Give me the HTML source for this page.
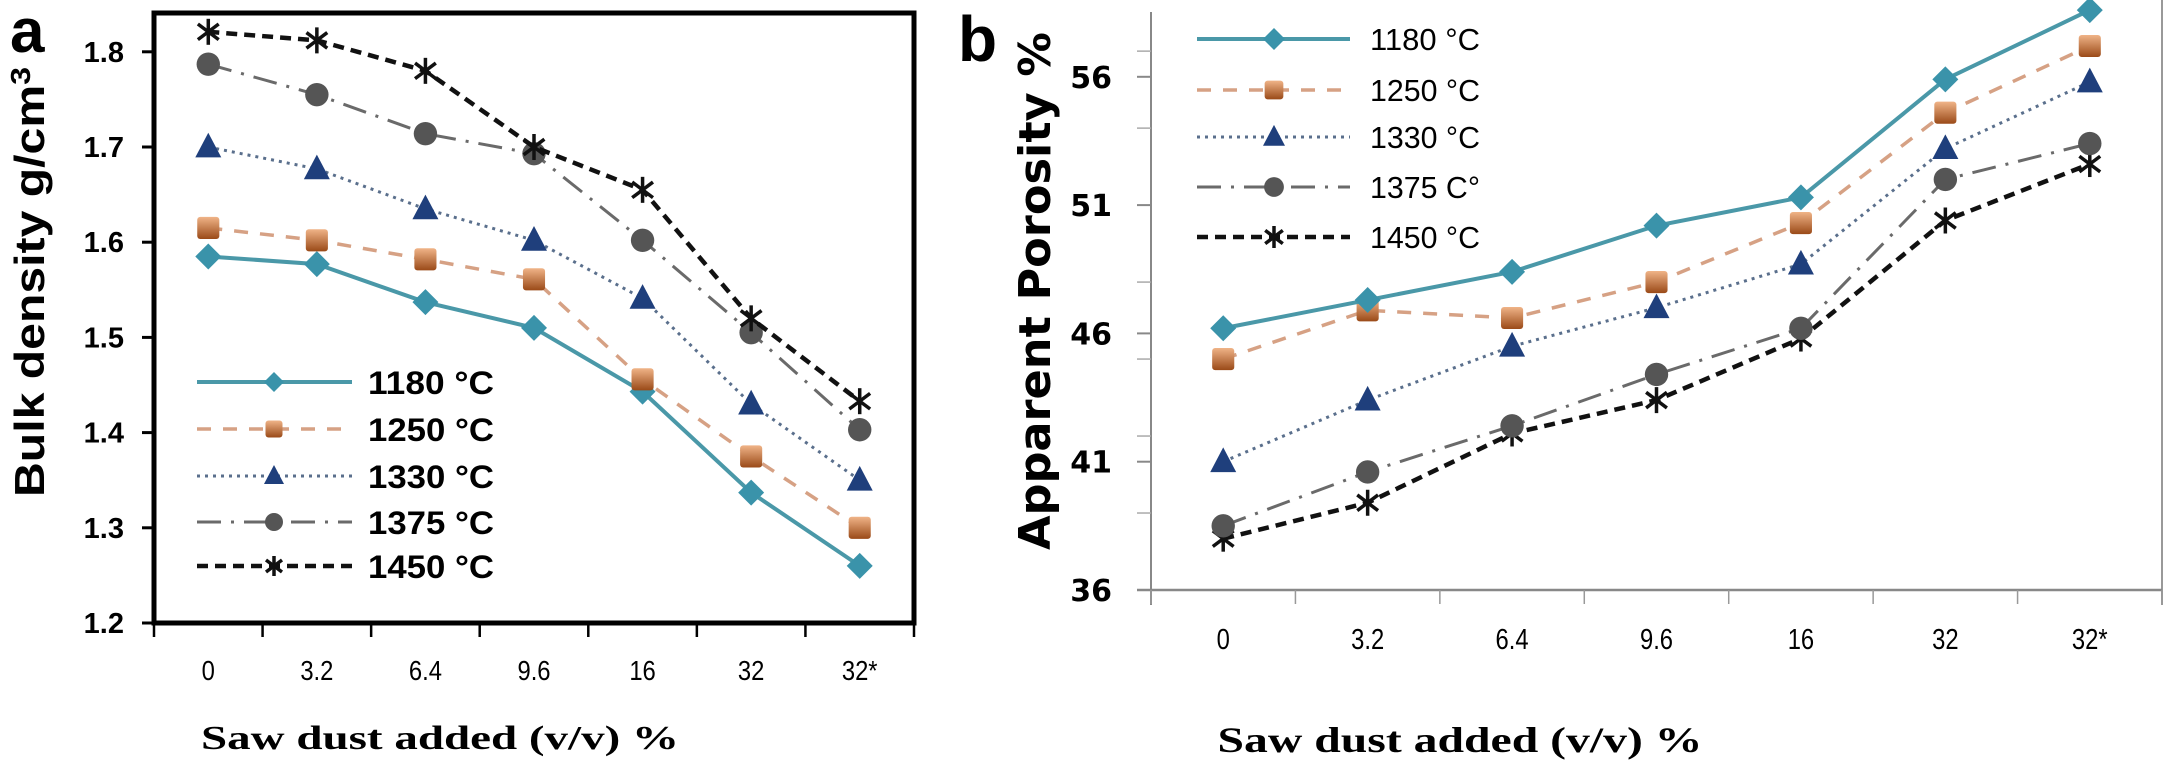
<!DOCTYPE html>
<html><head><meta charset="utf-8">
<style>
html,body{margin:0;padding:0;background:#fff;}
svg{display:block;}
</style></head>
<body>
<svg id="fig" width="2175" height="771" viewBox="0 0 2175 771" xmlns="http://www.w3.org/2000/svg" font-family="Liberation Sans, sans-serif">
  <g id="panelA"></g>
  <g id="panelB"></g>
</svg>
<script>
// ---- shared categories ----
const categories = ["0","3.2","6.4","9.6","16","32","32*"];
const seriesNames = ["1180 °C","1250 °C","1330 °C","1375 °C","1450 °C"];
const seriesNamesB = ["1180 °C","1250 °C","1330 °C","1375 C°","1450 °C"];
// ---- panel a: bulk density ----
const densityTicks = [1.2,1.3,1.4,1.5,1.6,1.7,1.8];
const density1180 = [1.585,1.577,1.537,1.510,1.443,1.337,1.260];
const density1250 = [1.615,1.602,1.582,1.561,1.456,1.375,1.300];
const density1330 = [1.700,1.677,1.635,1.602,1.541,1.430,1.350];
const density1375 = [1.787,1.755,1.714,1.693,1.602,1.505,1.403];
const density1450 = [1.821,1.812,1.780,1.700,1.655,1.520,1.433];
// ---- panel b: apparent porosity ----
const porosityTicks = [36,41,46,51,56];
const porosityMinorTicks = [39,42,45,48,54,57];
const porosity1180 = [46.2,47.3,48.4,50.2,51.3,55.9,58.6];
const porosity1250 = [45.0,46.9,46.6,48.0,50.3,54.6,57.2];
const porosity1330 = [41.0,43.4,45.5,47.0,48.7,53.2,55.8];
const porosity1375 = [38.5,40.6,42.4,44.4,46.2,52.0,53.4];
const porosity1450 = [38.0,39.4,42.1,43.4,45.8,50.4,52.6];

const NS="http://www.w3.org/2000/svg";
function mk(tag, attrs, parent){const e=document.createElementNS(NS,tag);for(const k in attrs)e.setAttribute(k,attrs[k]);if(parent)parent.appendChild(e);return e;}

const styles=[
 {line:"#4a98a8",w:4,dash:"",marker:"diamond",fill:"#3a93aa"},
 {line:"#d6a184",w:3.5,dash:"14 12",marker:"square",fill:"url(#sqgrad)"},
 {line:"#5a6f8c",w:3,dash:"3 5",marker:"triangle",fill:"#1f3f7c"},
 {line:"#6a6a6a",w:3,dash:"24 10 3 10",marker:"circle",fill:"#555"},
 {line:"#111",w:4.5,dash:"11 7",marker:"star",fill:"#111"}
];
const fig=document.getElementById('fig');
const defs=mk('defs',{},fig);
const gr=mk('linearGradient',{id:'sqgrad',x1:0,y1:0,x2:0,y2:1},defs);
mk('stop',{offset:'0','stop-color':'#f0b488'},gr);
mk('stop',{offset:'1','stop-color':'#9a4a18'},gr);

function marker(g,type,x,y,s,fill){
  let m;
  if(type==="diamond") m=mk('polygon',{points:`${x},${y-s} ${x+s},${y} ${x},${y+s} ${x-s},${y}`,fill:fill},g);
  else if(type==="square") m=mk('rect',{x:x-s*0.85,y:y-s*0.85,width:s*1.7,height:s*1.7,rx:3,fill:fill},g);
  else if(type==="triangle") m=mk('polygon',{points:`${x},${y-s*1.1} ${x+s},${y+s*0.8} ${x-s},${y+s*0.8}`,fill:fill},g);
  else if(type==="circle") m=mk('circle',{cx:x,cy:y,r:s*0.9,fill:fill},g);
  else {
    m=mk('g',{stroke:fill,'stroke-width':3.5},g);
    mk('line',{x1:x,y1:y-s,x2:x,y2:y+s},m);
    mk('line',{x1:x-s*0.8,y1:y-s*0.6,x2:x+s*0.8,y2:y+s*0.6},m);
    mk('line',{x1:x-s*0.8,y1:y+s*0.6,x2:x+s*0.8,y2:y-s*0.6},m);
  }
  return m;
}

// ===== Panel A =====
(function(){
  const g=document.getElementById('panelA');
  const x0=154,x1=914,yTop=13,yBot=623,vMin=1.2,perUnit=952;
  const band=(x1-x0)/categories.length;
  const xs=i=>x0+band*(i+0.5);
  const ys=v=>yBot-(v-vMin)*perUnit;
  const fr=mk('rect',{x:x0,y:yTop,width:x1-x0,height:yBot-yTop,fill:'none',stroke:'#000','stroke-width':5},g);
  
  
  densityTicks.forEach(t=>{
    const tl=mk('line',{x1:x0-12,y1:ys(t),x2:x0,y2:ys(t),stroke:'#000','stroke-width':3},g);
    
    
    const tx=mk('text',{x:124,y:ys(t)+10,'text-anchor':'end','font-size':29,'font-weight':'bold'},g);
    tx.textContent=t.toFixed(1);
    
    
  });
  for(let i=0;i<=categories.length;i++){
    const tl=mk('line',{x1:x0+band*i,y1:yBot,x2:x0+band*i,y2:yBot+14,stroke:'#000','stroke-width':2.5},g);
    
    
  }
  categories.forEach((c,i)=>{
    const tx=mk('text',{x:xs(i),y:680,'text-anchor':'middle','font-size':28,transform:`translate(${xs(i)},0) scale(0.85,1) translate(${-xs(i)},0)`},g);
    tx.textContent=c;
    
    
  });
  const xt=mk('text',{x:440,y:749,'text-anchor':'middle','font-size':34,'font-weight':'bold','font-family':'Liberation Serif, serif',textLength:478,lengthAdjust:'spacingAndGlyphs'},g);
  xt.textContent="Saw dust added (v/v) %";
  
  
  const yt=mk('text',{x:0,y:0,'text-anchor':'middle','font-size':42,'font-weight':'bold',transform:'translate(44,282) rotate(-90)',textLength:430,lengthAdjust:'spacingAndGlyphs'},g);
  yt.innerHTML='Bulk density g/cm<tspan dy="-14" font-size="28">3</tspan>';
  
  
  const lab=mk('text',{x:10,y:52,'font-size':62,'font-weight':'bold'},g);
  lab.textContent='a';
  
  
  const data=[density1180,density1250,density1330,density1375,density1450];
  [0,1,2,3,4].forEach(si=>{
    const st=styles[si];const sg=mk('g',{},g);
    
    
    const pts=data[si].map((v,i)=>xs(i)+','+ys(v)).join(' ');
    mk('polyline',{points:pts,fill:'none',stroke:st.line,'stroke-width':st.w,'stroke-dasharray':st.dash},sg);
    data[si].forEach((v,i)=>{
      const m=marker(sg,st.marker,xs(i),ys(v),13,st.fill);
      
      
    });
  });
  const rows=[382,429,476,522,566];
  const lg=mk('g',{},g);
  
  
  seriesNames.forEach((n,i)=>{
    const st=styles[i];const e=mk('g',{},lg);
    
    
    mk('line',{x1:197,y1:rows[i],x2:352,y2:rows[i],stroke:st.line,'stroke-width':st.w,'stroke-dasharray':st.dash},e);
    marker(e,st.marker,274,rows[i],10,st.fill);
    const t=mk('text',{x:368,y:rows[i]+12,'font-size':32,'font-weight':'bold',textLength:126,lengthAdjust:'spacingAndGlyphs'},e);
    t.textContent=n;
  });
})();

// ===== Panel B =====
(function(){
  const g=document.getElementById('panelB');
  const x0=1151,x1=2162,yBot=590,vMin=36,perUnit=25.66;
  const band=(x1-x0)/categories.length;
  const xs=i=>x0+band*(i+0.5);
  const ys=v=>yBot-(v-vMin)*perUnit;
  const ax=mk('line',{x1:x0,y1:12,x2:x0,y2:605,stroke:'#888','stroke-width':2},g);
  
  
  const rb=mk('line',{x1:x1,y1:0,x2:x1,y2:605,stroke:'#999','stroke-width':2},g);
  
  
  const xa=mk('line',{x1:x0-14,y1:yBot,x2:x1,y2:yBot,stroke:'#888','stroke-width':2.5},g);
  
  
  porosityTicks.forEach(t=>{
    const tl=mk('line',{x1:x0-14,y1:ys(t),x2:x0,y2:ys(t),stroke:'#888','stroke-width':2},g);
    
    
    const tx=mk('text',{x:1112,y:ys(t)+11,'text-anchor':'end','font-size':30,'font-weight':'bold','font-family':'DejaVu Sans, sans-serif'},g);
    tx.textContent=t;
    
    
  });
  porosityMinorTicks.forEach(t=>{
    const tl=mk('line',{x1:x0-14,y1:ys(t),x2:x0,y2:ys(t),stroke:'#aaa','stroke-width':1.5},g);
    
    
  });
  for(let i=0;i<=categories.length;i++){
    const tl=mk('line',{x1:x0+band*i,y1:yBot,x2:x0+band*i,y2:yBot+14,stroke:'#999','stroke-width':1.5},g);
    
    
  }
  categories.forEach((c,i)=>{
    const tx=mk('text',{x:xs(i),y:649,'text-anchor':'middle','font-size':29,transform:`translate(${xs(i)},0) scale(0.82,1) translate(${-xs(i)},0)`},g);
    tx.textContent=c;
    
    
  });
  const xt=mk('text',{x:1460,y:752,'text-anchor':'middle','font-size':36,'font-weight':'bold','font-family':'Liberation Serif, serif',textLength:485,lengthAdjust:'spacingAndGlyphs'},g);
  xt.textContent="Saw dust added (v/v) %";
  
  
  const yt=mk('text',{x:0,y:0,'text-anchor':'middle','font-size':44,'font-weight':'bold','font-family':'DejaVu Sans, sans-serif',transform:'translate(1050,291) rotate(-90)',textLength:518,lengthAdjust:'spacingAndGlyphs'},g);
  yt.textContent='Apparent Porosity %';
  
  
  const lab=mk('text',{x:958,y:61,'font-size':64,'font-weight':'bold'},g);
  lab.textContent='b';
  
  
  const data=[porosity1180,porosity1250,porosity1330,porosity1375,porosity1450];
  [4,3,2,1,0].forEach(si=>{
    const st=styles[si];const sg=mk('g',{},g);
    
    
    const pts=data[si].map((v,i)=>xs(i)+','+ys(v)).join(' ');
    mk('polyline',{points:pts,fill:'none',stroke:st.line,'stroke-width':st.w,'stroke-dasharray':st.dash},sg);
    data[si].forEach((v,i)=>{
      const m=marker(sg,st.marker,xs(i),ys(v),13,st.fill);
      
      
    });
  });
  const rows=[39,90,137,187,237];
  const lg=mk('g',{},g);
  
  
  seriesNamesB.forEach((n,i)=>{
    const st=styles[i];const e=mk('g',{},lg);
    
    
    mk('line',{x1:1197,y1:rows[i],x2:1350,y2:rows[i],stroke:st.line,'stroke-width':st.w,'stroke-dasharray':st.dash},e);
    marker(e,st.marker,1274,rows[i],11,st.fill);
    const t=mk('text',{x:1370,y:rows[i]+11,'font-size':31,textLength:110,lengthAdjust:'spacingAndGlyphs'},e);
    t.textContent=n;
  });
})();
</script>
</body></html>
